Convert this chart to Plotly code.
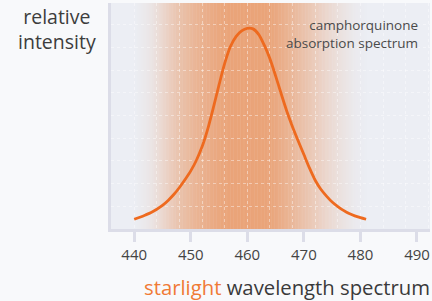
import numpy as np
import plotly.graph_objects as go

# Absorption curve
wavelength = [440, 441, 442, 443, 444, 445, 446, 447, 448, 449, 450, 451, 452, 453, 454, 455, 456, 457, 458, 459, 460,
              461, 462, 463, 464, 465, 466, 467, 468, 469, 470, 471, 472, 473, 474, 475, 476, 477, 478, 479, 480, 481]
intensity = [4.3, 5.2, 6.2, 7.3, 8.7, 10.4, 12.6, 15.2, 18.3, 21.8, 25.6, 30.3, 36.2, 44.0, 53.5, 63.5, 73.0, 80.3, 84.8, 87.3, 88.4,
             88.2, 85.8, 81.0, 75.0, 67.5, 59.5, 51.8, 45.0, 38.8, 32.8, 26.8, 21.5, 17.5, 14.5, 11.9, 9.9, 8.2, 6.8, 5.8, 5.0, 4.3]

# Starlight background band profile (relative strength 0..1)
band_wl = [435, 440, 441, 443, 445, 447, 449, 451, 453, 455, 457, 463, 465, 467, 469, 471, 473, 475, 477, 479, 481, 493]
band_strength = [0, 0, 0.03, 0.12, 0.3, 0.5, 0.65, 0.77, 0.86, 0.95, 1.0, 1.0, 0.93, 0.8, 0.66, 0.52, 0.38, 0.25, 0.14, 0.05, 0.0, 0.0]

tick_vals = [440, 450, 460, 470, 480, 490]
tick_text = ["440", "450", "460", "470", "480", "490"]

base_rgb = np.array([236, 238, 244])
orange_rgb = np.array([234, 164, 121])

fig = go.Figure()

# gradient band as shapes below gridlines
step = 0.25
xs = np.arange(435.5, 493.0, step)
shapes = []
for x0 in xs:
    s = float(np.interp(x0 + step / 2, band_wl, band_strength))
    if s <= 0.001:
        continue
    c = base_rgb + (orange_rgb - base_rgb) * s
    shapes.append(dict(type="rect", xref="x", yref="y domain", x0=x0, x1=x0 + step + 0.08,
                       y0=0, y1=1, fillcolor="rgb(%d,%d,%d)" % tuple(c.astype(int)),
                       line=dict(width=0), layer="below"))

fig.add_trace(go.Scatter(x=wavelength, y=intensity, mode="lines",
                         line=dict(color="#ee6a1f", width=2.8, shape="spline", smoothing=0.8),
                         hoverinfo="skip", showlegend=False))

grid_col = "rgba(255,255,255,0.42)"
fig.update_layout(
    width=432, height=301,
    margin=dict(l=111, r=2, t=3, b=71.5),
    paper_bgcolor="#f8f9fb",
    plot_bgcolor="#eceef4",
    shapes=shapes,
    font=dict(family="Open Sans", color="#3d3d3d"),
    xaxis=dict(range=[435.9, 492.3], tickvals=tick_vals, ticktext=tick_text,
               showgrid=False, zeroline=False, showline=True, linecolor="#dcdde8", linewidth=3,
               ticks="outside", ticklen=10, tickwidth=3, tickcolor="#dcdde8",
               tickfont=dict(size=15, color="#444444", family="Open Sans"),
               minor=dict(dtick=4, tick0=440, showgrid=True, gridcolor=grid_col,
                          griddash="dot", gridwidth=1, ticks="")),
    yaxis=dict(range=[0, 99.6], dtick=10, showticklabels=False, zeroline=False,
               showgrid=True, gridcolor=grid_col, griddash="dot", gridwidth=1,
               showline=True, linecolor="#dcdde8", linewidth=3),
    annotations=[
        dict(text="relative<br>intensity", xref="paper", yref="paper", x=-0.169, y=0.883,
             xanchor="center", yanchor="middle", showarrow=False, align="center",
             font=dict(size=19.5, color="#3d3d3d")),
        dict(text="camphorquinone<br>absorption spectrum", xref="paper", yref="paper", x=0.968, y=0.865,
             xanchor="right", yanchor="middle", showarrow=False, align="right",
             font=dict(size=13.5, color="#4a4a4a")),
        dict(text="<span style='color:#f07a35'>starlight</span> wavelength spectrum",
             xref="paper", yref="paper", x=0.097, y=-0.258,
             xanchor="left", yanchor="middle", showarrow=False, align="left",
             font=dict(size=20.3, color="#3a3a3a")),
    ],
)

fig.write_html("out.html", config={"displayModeBar": False},
               post_script="document.body.style.margin='0';document.body.style.overflow='hidden';")
